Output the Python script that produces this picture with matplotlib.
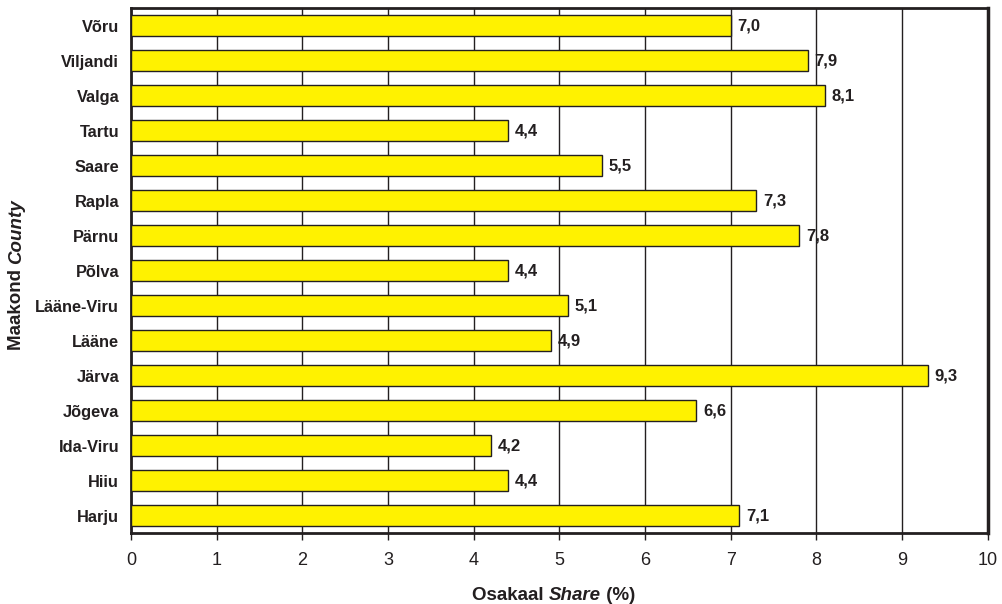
import matplotlib
matplotlib.use("Agg")
import matplotlib.pyplot as plt

plt.rcParams['font.family'] = ['Liberation Sans', 'DejaVu Sans']

#%% Andmed (ülevalt alla)
maakonnad = ['Võru', 'Viljandi', 'Valga', 'Tartu', 'Saare', 'Rapla', 'Pärnu',
             'Põlva', 'Lääne-Viru', 'Lääne', 'Järva', 'Jõgeva', 'Ida-Viru',
             'Hiiu', 'Harju']
osakaal = [7.0, 7.9, 8.1, 4.4, 5.5, 7.3, 7.8, 4.4, 5.1, 4.9, 9.3, 6.6, 4.2,
           4.4, 7.1]
x_ticks = list(range(0, 11))

DARK = '#231f20'

fig = plt.figure(figsize=(10.02, 6.04), dpi=100)
ax = fig.add_axes([0.1307, 0.1175, 0.855, 0.869])

pos = list(range(len(maakonnad)))[::-1]     # Võru ülemine
ax.barh(pos, osakaal, height=0.6, color='#fff200', edgecolor=DARK,
        linewidth=1.0, zorder=3)

for p, v in zip(pos, osakaal):
    ax.text(v + 0.08, p, ('%.1f' % v).replace('.', ','), va='center',
            ha='left', fontsize=12, fontweight='bold', color=DARK, zorder=4)

ax.set_xlim(0, 10)
ax.set_ylim(-0.5, len(maakonnad) - 0.5)
ax.set_xticks(x_ticks)
ax.set_xticklabels([str(t) for t in x_ticks], fontsize=13, color=DARK)
ax.set_yticks(pos)
ax.set_yticklabels(maakonnad, fontsize=11.8, fontweight='bold', color=DARK)
ax.tick_params(axis='x', direction='out', length=5, width=1, color=DARK, pad=9)
ax.tick_params(axis='y', length=0, pad=8.5)
ax.grid(axis='x', color=DARK, linewidth=1.0, zorder=0)
ax.set_axisbelow(True)

for s in ax.spines.values():
    s.set_color(DARK)
    s.set_linewidth(2.0)
ax.spines['right'].set_linewidth(2.5)

# x-telje pealkiri: Osakaal *Share* (%)
t1 = fig.text(0.471, 0.018, 'Osakaal ', fontsize=13.5, fontweight='bold',
              color=DARK, ha='left', va='center_baseline')
t2 = ax.annotate('Share', xy=(1, 0), xycoords=t1, va='bottom', ha='left',
                 fontsize=13.5, fontweight='bold', fontstyle='italic',
                 color=DARK)
ax.annotate(' (%)', xy=(1, 0), xycoords=t2, va='bottom', ha='left',
            fontsize=13.5, fontweight='bold', color=DARK)

# y-telje pealkiri: Maakond *County*
y1 = fig.text(0.008, 0.42, 'Maakond ', fontsize=13.5, fontweight='bold',
              color=DARK, rotation=90, ha='left', va='bottom')
ax.annotate('County', xy=(0, 1), xycoords=y1, va='bottom', ha='left',
            fontsize=13.5, fontweight='bold', fontstyle='italic', color=DARK,
            rotation=90)

fig.savefig('out.png', dpi=100)
